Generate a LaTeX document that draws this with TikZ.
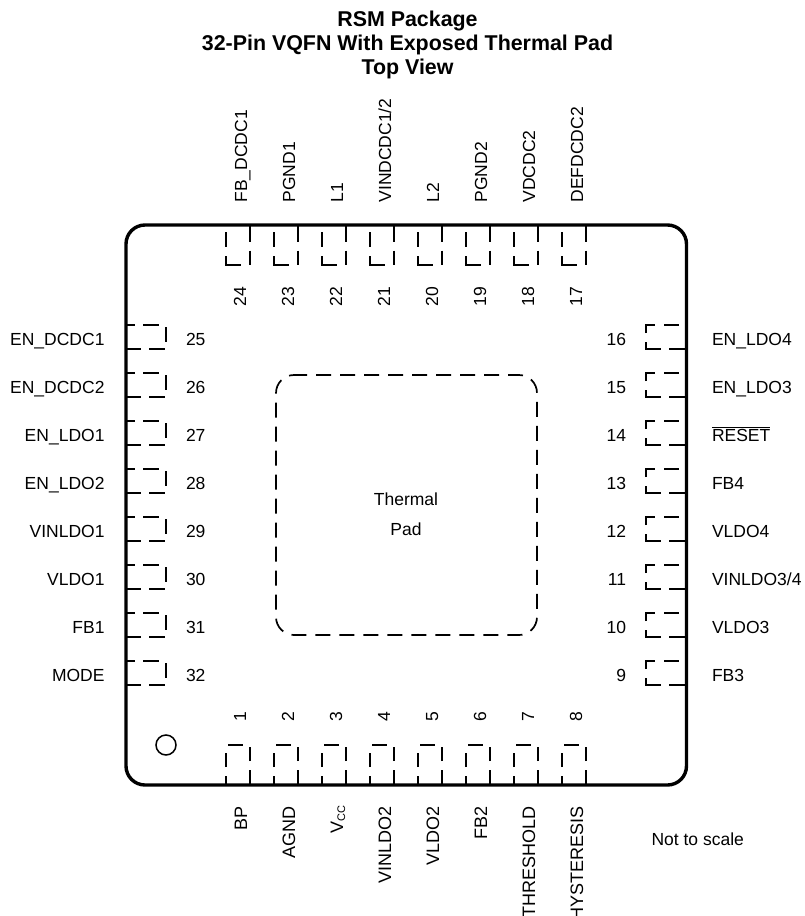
\documentclass[tikz,border=0pt]{standalone}
\usepackage{fontspec}
\setmainfont{Liberation Sans}
\tikzset{
  every node/.style={inner sep=0pt,outer sep=0pt,font=\fontsize{17.5}{21}\selectfont,text=black},
  pinline/.style={line width=1.7pt,black,line cap=butt},
  bodyline/.style={line width=3.4pt,black},
  padline/.style={line width=1.7pt,black,dash pattern=on 15pt off 9pt,dash phase=2pt},
  titletext/.style={font=\fontsize{21.4}{24}\bfseries\selectfont,text=black,anchor=base},
  vlabel/.style={rotate=90},
  bottomlabel/.style={rotate=90,anchor=base east,font=\fontsize{18}{21}\selectfont}
}
\begin{document}
\begin{tikzpicture}[x=1pt,y=-1pt]
\clip (0,0) rectangle (804,916);
\fill[white] (0,0) rectangle (804,916);
% package body
\draw[bodyline,rounded corners=19pt] (126,225) rectangle (686.5,785);
% thermal pad
\draw[padline,rounded corners=18pt] (294,375) -- (537,375) -- (537,635) -- (276,635) -- (276,375) -- (294,375);
\node[anchor=base] (thermal) at (406,505) {Thermal};
\node[anchor=base] (pad) at (406,535) {Pad};
% pin one marker
\draw[line width=1.5pt,black] (166,745) circle (10);
% top and bottom pins
\foreach \x in {226,274,...,562}{
  \draw[pinline] ({\x+24},225) -- ({\x+24},241.5) ({\x+24},250.5) -- ({\x+24},265)
     (\x,232) -- (\x,247) (\x,256) -- (\x,265) -- ({\x+15},265);
}
\foreach \x in {226,274,...,562}{
  \draw[pinline] (\x,785) -- (\x,776) (\x,767) -- (\x,752.5)
     ({\x+24},785) -- ({\x+24},770) ({\x+24},761) -- ({\x+24},746.5)
     ({\x+2},745) -- ({\x+17},745);
}
% left and right pins
\foreach \y in {325,373,...,661}{
  \draw[pinline] (126,\y) -- (135,\y) (143,\y) -- (159,\y)
     (166,{\y+2}) -- (166,{\y+17})
     (126,{\y+24}) -- (141,{\y+24}) (149,{\y+24}) -- (165,{\y+24});
  \draw[pinline] (646,{\y+8}) -- (646,\y) -- (655,\y) (664,\y) -- (679,\y)
     (646,{\y+17}) -- (646,{\y+24}) -- (661,{\y+24}) (669,{\y+24}) -- (686,{\y+24});
}
% top labels
\foreach \k/\n/\t in {0/24/{FB\_DCDC1},1/23/PGND1,2/22/L1,3/21/{VINDCDC1/2},4/20/L2,5/19/PGND2,6/18/VDCDC2,7/17/DEFDCDC2}{
  \node[vlabel,anchor=base west] (tl\n) at ({247+48*\k},202.5) {\t};
  \node[vlabel,anchor=base west] (tn\n) at ({246+48*\k},306) {\n};
}
% bottom labels
\foreach \k/\n/\t in {0/1/BP,1/2/AGND,3/4/VINLDO2,4/5/VLDO2,5/6/FB2,6/7/THRESHOLD,7/8/HYSTERESIS}{
  \node[bottomlabel] (bl\n) at ({247+48*\k},806) {\t};
}
\node[bottomlabel] (bl3) at (343,806) {V\raisebox{-2pt}{\fontsize{11}{11}\selectfont CC}};
\foreach \k/\n in {0/1,1/2,2/3,3/4,4/5,5/6,6/7,7/8}{
  \node[vlabel,anchor=base west] (bn\n) at ({246+48*\k},721.5) {\n};
}
% left labels
\foreach \k/\n/\t in {0/25/{EN\_DCDC1},1/26/{EN\_DCDC2},2/27/{EN\_LDO1},3/28/{EN\_LDO2},4/29/VINLDO1,5/30/VLDO1,6/31/FB1,7/32/MODE}{
  \node[anchor=base east] (ll\n) at (104.5,{345+48*\k}) {\t};
  \node[anchor=base west] (ln\n) at (186,{345+48*\k}) {\n};
}
% right labels
\foreach \k/\n/\t in {0/16/{EN\_LDO4},1/15/{EN\_LDO3},3/13/FB4,4/12/VLDO4,5/11/{VINLDO3/4},6/10/VLDO3,7/9/FB3}{
  \node[anchor=base west] (rl\n) at (712,{345+48*\k}) {\t};
}
\node[anchor=base west] (rl14) at (712,441) {$\overline{\hbox{RESET}}$};
\foreach \k/\n in {0/16,1/15,2/14,3/13,4/12,5/11,6/10,7/9}{
  \node[anchor=base east] (rn\n) at (626,{345+48*\k}) {\n};
}
\node[anchor=base west] (nts) at (651.5,845) {Not to scale};
% title
\node[titletext] (t1) at (407.5,26.7) {RSM Package};
\node[titletext] (t2) at (407.5,50.7) {32-Pin VQFN With Exposed Thermal Pad};
\node[titletext] (t3) at (407.5,74.7) {Top View};
\end{tikzpicture}
\end{document}
